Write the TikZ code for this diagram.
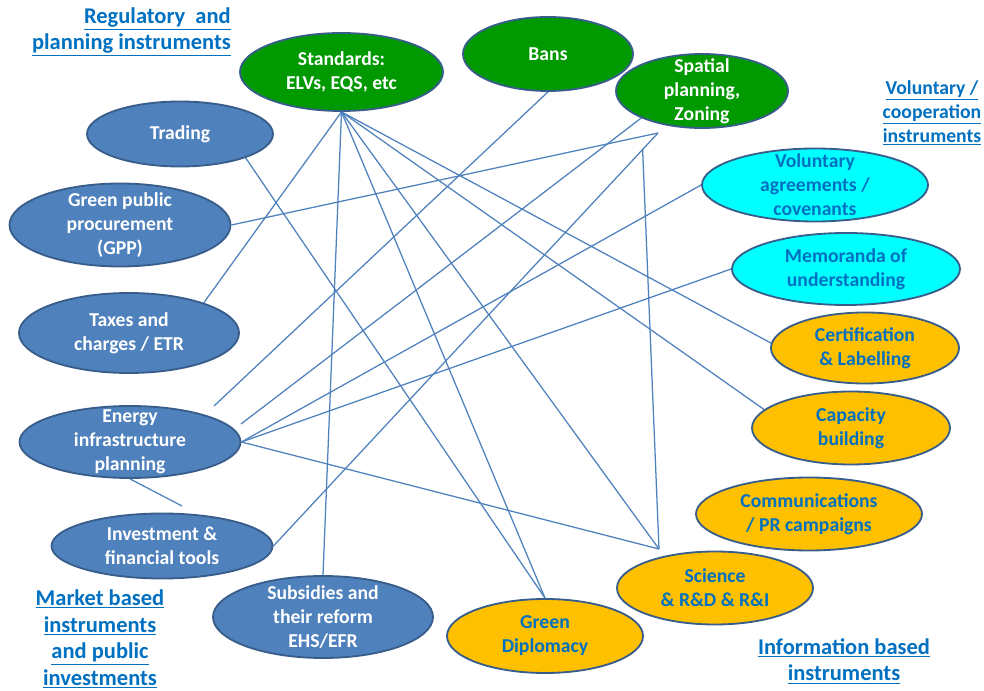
\documentclass[tikz,border=0pt]{standalone}
\usepackage{fontspec}
\setmainfont{Carlito}
\usetikzlibrary{shapes,calc,positioning}

\definecolor{regulgreen}{RGB}{0,153,0}
\definecolor{marketblue}{RGB}{79,129,189}
\definecolor{rimblue}{RGB}{56,93,138}
\definecolor{volcyan}{RGB}{0,255,255}
\definecolor{infoorange}{RGB}{255,192,0}
\definecolor{headblue}{RGB}{0,112,192}
\definecolor{linkblue}{RGB}{79,129,189}

\tikzset{
	oval/.style 2 args={minimum width=#1*0.25mm,minimum height=#2*0.25mm},
	instr/.style={ellipse,draw=rimblue,line width=1.3pt,inner sep=-100pt,align=center,font=\fontsize{14}{17}\selectfont\bfseries},
	regul/.style={instr,fill=regulgreen,text=white},
	market/.style={instr,fill=marketblue,text=white},
	volun/.style={instr,fill=volcyan,text=headblue},
	inform/.style={instr,fill=infoorange,text=headblue},
	heading/.style={inner sep=0pt,align=center,text=headblue,font=\fontsize{16}{19}\selectfont\bfseries},
	link/.style={draw=linkblue,line width=0.9pt}
}

\begin{document}
\begin{tikzpicture}[x=0.25mm,y=-0.25mm]
	\useasboundingbox (0,0) rectangle (984,691);

	\node[regul,oval={203}{78}]		(std)	at (341.5,72)	{Standards:\\ELVs, EQS, etc};
	\node[regul,oval={170}{74}]		(bans)	at (548,54)		{Bans};
	\node[regul,oval={172}{74}]		(spa)	at (702,91)		{Spatial\\planning,\\Zoning};
	\node[market,oval={186}{65}]	(trd)	at (180,134)	{Trading};
	\node[market,oval={221}{83}]	(gpp)	at (120,225)	{Green public\\procurement\\(GPP)};
	\node[market,oval={220}{80}]	(tax)	at (129,333)	{Taxes and\\charges / ETR};
	\node[market,oval={221}{72}]	(ene)	at (130,442)	{Energy\\infrastructure\\planning};
	\node[market,oval={221}{65}]	(inv)	at (162,546)	{Investment \&\\financial tools};
	\node[market,oval={220}{82}]	(sub)	at (323,617)	{Subsidies and\\their reform\\EHS/EFR};
	\node[volun,oval={226}{73}]		(vol)	at (815,185)	{Voluntary\\agreements /\\covenants};
	\node[volun,oval={228}{72}]		(mem)	at (846,269)	{Memoranda of\\understanding};
	\node[inform,oval={188}{71}]	(cert)	at (865,348)	{Certification\\\& Labelling};
	\node[inform,oval={198}{73}]	(cap)	at (851,428)	{Capacity\\building};
	\node[inform,oval={226}{73}]	(com)	at (809,514)	{Communications\\/ PR campaigns};
	\node[inform,oval={196}{73}]	(sci)	at (715,588)	{Science\\\& R\&D \& R\&I};
	\node[inform,oval={196}{74}]	(gdip)	at (545,636)	{Green\\Diplomacy};

	\node[heading,anchor=east,align=right]	(hreg)	at (231,32)		{\underline{Regulatory\ \ and}\\\underline{planning instruments}};
	\node[heading,font=\fontsize{14}{17}\selectfont\bfseries]	(hvol)	at (932,113)	{\underline{Voluntary /}\\\underline{cooperation}\\\underline{instruments}};
	\node[heading]	(hmar)	at (100,639)	{\underline{Market based}\\\underline{instruments}\\\underline{and public}\\\underline{investments}};
	\node[heading]	(hinf)	at (844,661)	{\underline{Information based}\\\underline{instruments}};

	\coordinate (A)		at (658,133);
	\coordinate (B)		at ($(inv.east)!0.96!(A)$);
	\coordinate (S)		at (659,549);
	\coordinate (E1)	at (214,406);
	\coordinate (E2)	at (241,424);
	\coordinate (E3)	at (182,506);

	\draw[link]	(std.south) -- (tax.22);
	\draw[link]	(std.south) -- (sub.north);
	\draw[link]	(std.south) -- (gdip.north);
	\draw[link]	(std.south) -- (S);
	\draw[link]	(std.south) -- (cap.168);
	\draw[link]	(std.south) -- (cert.177);
	\draw[link]	(trd.-20) -- (gdip.north);
	\draw[link]	(gpp.east) -- (A);
	\draw[link]	(inv.east) -- (A);
	\draw[link]	(B) -- (S);
	\draw[link]	(bans.south) -- (E1);
	\draw[link]	(spa.204) -- (E2);
	\draw[link]	(ene.east) -- (vol.west);
	\draw[link]	(ene.east) -- (mem.west);
	\draw[link]	(ene.east) -- (S);
	\draw[link]	(ene.south) -- (E3);
\end{tikzpicture}
\end{document}
